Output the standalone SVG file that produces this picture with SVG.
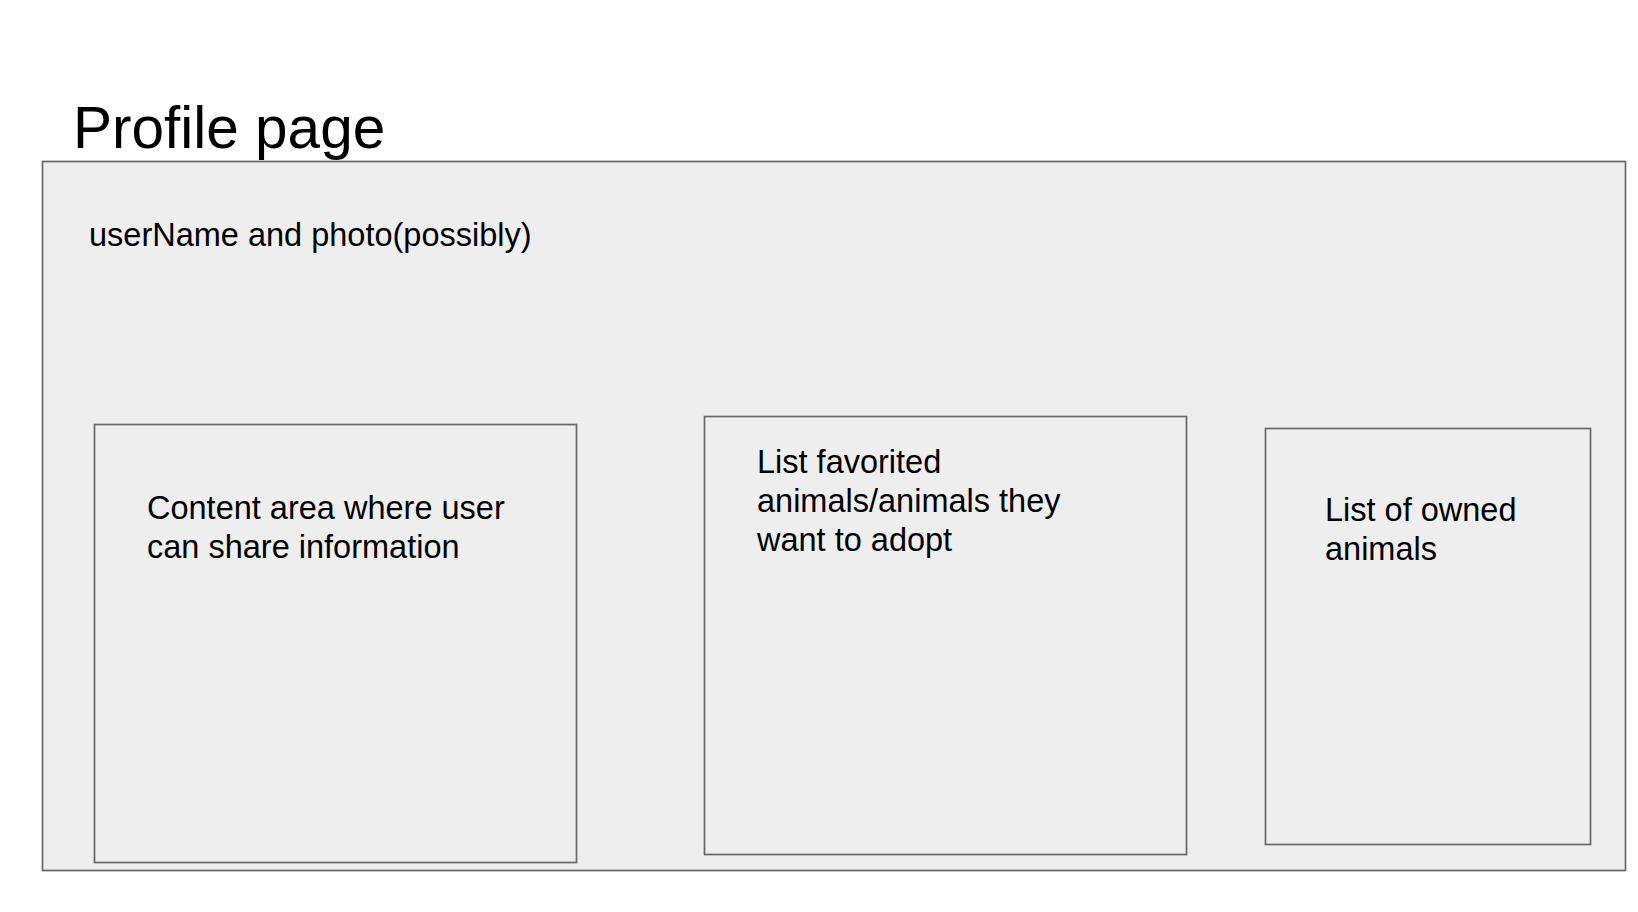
<svg xmlns="http://www.w3.org/2000/svg" width="1638" height="912" viewBox="0 0 1638 912">
<style>
.box{fill:#eeeeee;stroke:#666666;stroke-width:1.7}
.t{font-family:"Liberation Sans",Arial,sans-serif;fill:#000000}
.lbl{font-size:32.5px}
</style>
<rect x="0" y="0" width="1638" height="912" fill="#ffffff"/>
<g id="title"><text class="t" x="73" y="148" font-size="58.5">Profile page</text></g>
<g id="page">
<rect class="box" x="42.5" y="161.5" width="1583" height="709"/>
<text class="t lbl" x="89" y="246">userName and photo(possibly)</text>
</g>
<g id="content-area">
<rect class="box" x="94.5" y="424.5" width="482" height="438"/>
<text class="t lbl" x="147" y="519">Content area where user</text>
<text class="t lbl" x="147" y="558">can share information</text>
</g>
<g id="favorites">
<rect class="box" x="704.5" y="416.5" width="482" height="438"/>
<text class="t lbl" x="757" y="473">List favorited</text>
<text class="t lbl" x="757" y="512">animals/animals they</text>
<text class="t lbl" x="757" y="551">want to adopt</text>
</g>
<g id="owned">
<rect class="box" x="1265.5" y="428.5" width="325" height="416"/>
<text class="t lbl" x="1325" y="521">List of owned</text>
<text class="t lbl" x="1325" y="560">animals</text>
</g>
<g id="connectors"></g>
</svg>
